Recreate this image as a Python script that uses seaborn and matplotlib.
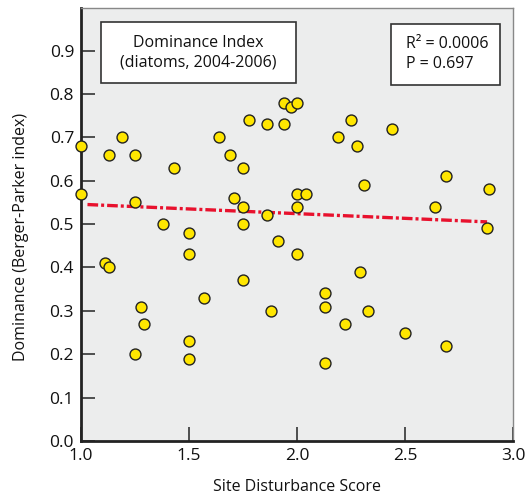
import matplotlib
matplotlib.use("Agg")
import matplotlib.pyplot as plt
from matplotlib.patches import Rectangle
import seaborn as sns
import pandas as pd

# Data
disturbance = [1.00, 1.00, 1.13, 1.19, 1.25, 1.25, 1.43, 1.38, 1.50, 1.50,
               1.11, 1.13, 1.64, 1.69, 1.75, 1.78, 1.86, 1.94, 1.94, 1.97,
               2.00, 1.71, 1.75, 1.75, 1.86, 1.91, 2.00, 2.00, 2.00, 1.75,
               2.04, 2.25, 2.19, 2.28, 2.44, 2.31, 2.69, 2.89, 2.64, 2.88,
               2.29, 1.28, 1.29, 1.25, 1.50, 1.50, 1.57, 1.88, 2.13, 2.13,
               2.33, 2.22, 2.50, 2.69, 2.13]
dominance = [0.68, 0.57, 0.66, 0.70, 0.66, 0.55, 0.63, 0.50, 0.48, 0.43,
             0.41, 0.40, 0.70, 0.66, 0.63, 0.74, 0.73, 0.73, 0.78, 0.77,
             0.78, 0.56, 0.54, 0.50, 0.52, 0.46, 0.43, 0.57, 0.54, 0.37,
             0.57, 0.74, 0.70, 0.68, 0.72, 0.59, 0.61, 0.58, 0.54, 0.49,
             0.39, 0.31, 0.27, 0.20, 0.23, 0.19, 0.33, 0.30, 0.34, 0.31,
             0.30, 0.27, 0.25, 0.22, 0.18]
fit_x = [1.03, 2.88]
fit_y = [0.545, 0.505]
x_ticks = [1.0, 1.5, 2.0, 2.5, 3.0]
y_ticks = [0.0, 0.1, 0.2, 0.3, 0.4, 0.5, 0.6, 0.7, 0.8, 0.9]

df = pd.DataFrame({"x": disturbance, "y": dominance})
fit = pd.DataFrame({"x": fit_x, "y": fit_y})

sns.set_theme(style="white")
plt.rcParams['font.family'] = ['Open Sans', 'DejaVu Sans']

W, H = 531, 499
fig = plt.figure(figsize=(W / 100, H / 100), dpi=100)
ax = fig.add_axes([81 / W, 1 - 441 / H, 432 / W, 433 / H])
ax.set_facecolor("#ECEDED")

sns.lineplot(data=fit, x="x", y="y", ax=ax, color="#E8112D", lw=2.4,
             linestyle=(0, (3.2, 0.9, 0.9, 0.9)), zorder=2)
sns.scatterplot(data=df, x="x", y="y", ax=ax, color="#FFE600",
                edgecolor="#222222", linewidth=1.0, s=62, zorder=3,
                clip_on=False)

ax.set_xlim(1.0, 3.0)
ax.set_ylim(0.0, 0.998)
ax.set_xticks(x_ticks)
ax.set_xticklabels([f"{v:.1f}" for v in x_ticks])
ax.set_yticks(y_ticks)
ax.set_yticklabels([f"{v:.1f}" for v in y_ticks])
ax.tick_params(axis="both", direction="in", length=10, width=1.2,
               color="#333333", labelsize=12.5, labelcolor="#111111", pad=5,
               left=True, bottom=True)

for s in ["left", "bottom"]:
    ax.spines[s].set_color("#222222")
    ax.spines[s].set_linewidth(2.0)
for s in ["top", "right"]:
    ax.spines[s].set_color("#888888")
    ax.spines[s].set_linewidth(1.0)

ax.set_xlabel("Site Disturbance Score", fontsize=11.5, color="#111111")
ax.xaxis.set_label_coords(0.5, -(479 - 441) / 433)
ax.set_ylabel("Dominance (Berger-Parker index)", fontsize=11.5, color="#111111")
ax.yaxis.set_label_coords(-(81 - 29) / 432, (441 - 237) / 433)

def fbox(x0, y0, x1, y1):
    fig.add_artist(Rectangle((x0 / W, 1 - y1 / H), (x1 - x0) / W, (y1 - y0) / H,
                             transform=fig.transFigure, fc="white",
                             ec="#333333", lw=1.2, zorder=5))

fbox(101, 22, 296, 83)
fig.text(198 / W, 1 - 53 / H, "Dominance Index\n(diatoms, 2004-2006)",
         ha="center", va="center", fontsize=11.5, color="#111111",
         linespacing=1.3, zorder=6)

fbox(391, 24, 500, 85)
fig.text(406 / W, 1 - 54 / H, "R² = 0.0006\nP = 0.697",
         ha="left", va="center", fontsize=11.5, color="#111111",
         linespacing=1.3, zorder=6)

fig.savefig("out.png", dpi=100)
